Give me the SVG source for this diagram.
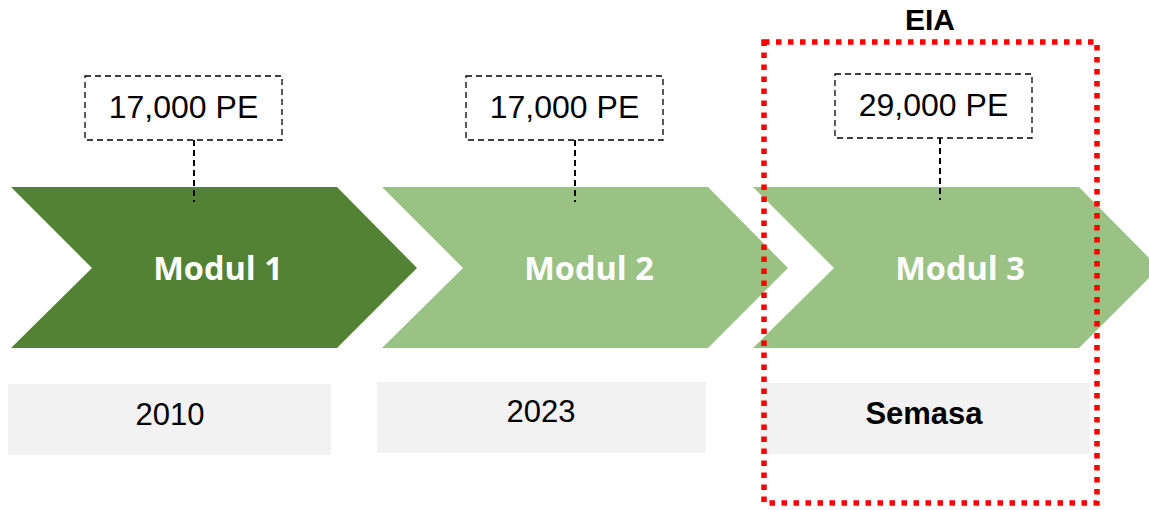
<svg xmlns="http://www.w3.org/2000/svg" width="1149" height="510" viewBox="0 0 1149 510">
  <style>
    .dark { fill: #548235; }
    .light { fill: #9BC285; }
    .mod { font-family: "Open Sans", "Noto Sans", sans-serif; font-weight: bold; font-size: 32.5px; fill: #FFFFFF; text-anchor: middle; }
    .pe-box { fill: #FFFFFF; stroke: #000000; stroke-width: 1.3; stroke-dasharray: 6 4; }
    .pe { font-family: "Liberation Sans", Arial, sans-serif; font-size: 32px; fill: #000000; text-anchor: middle; }
    .year-box { fill: #F2F2F2; }
    .year { font-family: "Liberation Sans", Arial, sans-serif; font-size: 31px; fill: #000000; text-anchor: middle; }
    .bold { font-weight: bold; }
    .eia-label { font-family: "Liberation Sans", Arial, sans-serif; font-size: 30px; font-weight: bold; fill: #000000; text-anchor: middle; }
    .link { stroke: #000000; stroke-width: 2; stroke-dasharray: 6 4; fill: none; }
    .eia { fill: none; stroke: #FF0000; stroke-width: 5.5; stroke-dasharray: 5.5 6.5; }
  </style>

  <!-- module chevrons -->
  <g id="modul1">
    <polygon class="dark" points="11,187 337,187 417,268 337,348 11,348 92,268"/>
    <text class="mod" x="218" y="280">Modul 1</text>
  </g>
  <g id="modul2">
    <polygon class="light" points="382,187 708,187 788,268 708,348 382,348 463,268"/>
    <text class="mod" x="589" y="280">Modul 2</text>
  </g>
  <g id="modul3">
    <polygon class="light" points="753,187 1079,187 1159,268 1079,348 753,348 834,268"/>
    <text class="mod" x="960" y="280">Modul 3</text>
  </g>

  <!-- dashed leaders from capacity labels into the chevrons -->
  <g id="connectors">
    <line class="link" x1="194" y1="140" x2="194" y2="202"/>
    <line class="link" x1="575" y1="140" x2="575" y2="202"/>
    <line class="link" x1="940" y1="138" x2="940" y2="200"/>
  </g>

  <!-- capacity labels -->
  <g id="pe1">
    <rect class="pe-box" x="85" y="76" width="197" height="64"/>
    <text class="pe" x="183.5" y="118">17,000 PE</text>
  </g>
  <g id="pe2">
    <rect class="pe-box" x="466" y="76" width="197" height="64"/>
    <text class="pe" x="564.5" y="118">17,000 PE</text>
  </g>
  <g id="pe3">
    <rect class="pe-box" x="835" y="74" width="197" height="64"/>
    <text class="pe" x="933.5" y="116">29,000 PE</text>
  </g>

  <!-- year labels -->
  <g id="year1">
    <rect class="year-box" x="8" y="384" width="323" height="71"/>
    <text class="year" x="170" y="425">2010</text>
  </g>
  <g id="year2">
    <rect class="year-box" x="377" y="382" width="329" height="71"/>
    <text class="year" x="541" y="422">2023</text>
  </g>
  <g id="year3">
    <rect class="year-box" x="760" y="383" width="329" height="71"/>
    <text class="year bold" x="924" y="424">Semasa</text>
  </g>

  <!-- EIA scope frame -->
  <g id="eia">
    <rect class="eia" x="764" y="42" width="333" height="461"/>
    <text class="eia-label" x="930" y="30">EIA</text>
  </g>
</svg>
